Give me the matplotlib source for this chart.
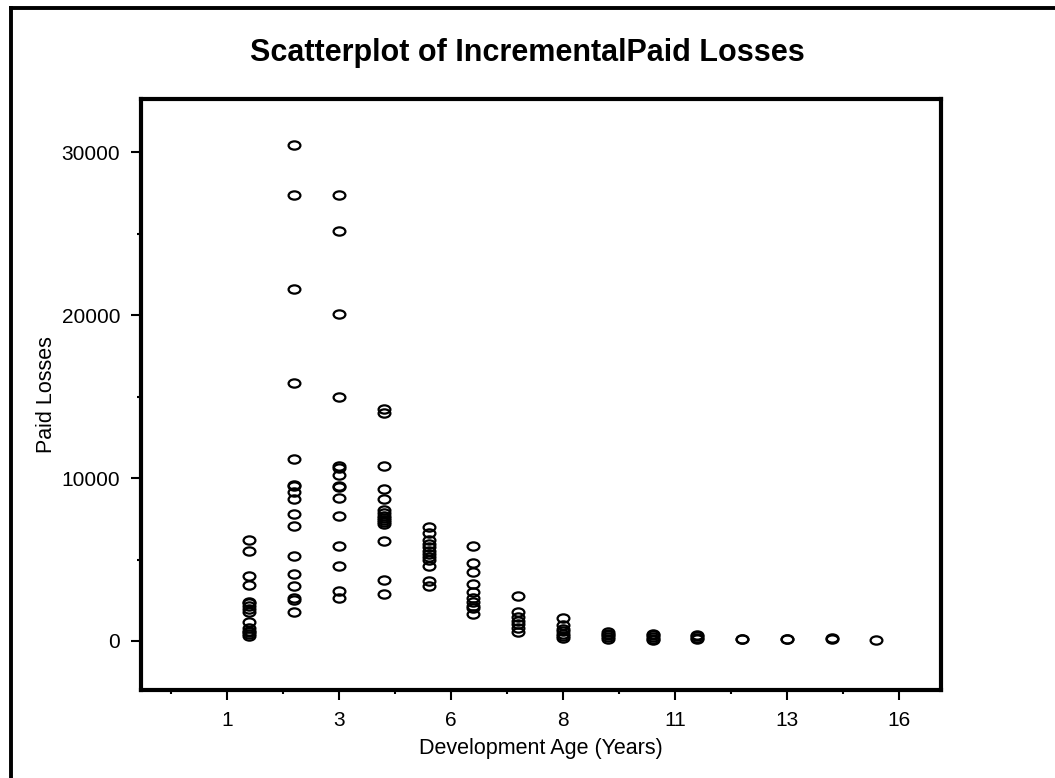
import numpy as np
import matplotlib
matplotlib.use('Agg')
import matplotlib.pyplot as plt
from matplotlib.path import Path
from matplotlib.transforms import Affine2D
from matplotlib.ticker import FixedLocator

plt.rcParams['font.family'] = ['Liberation Sans', 'DejaVu Sans']

# incremental paid losses by development age
age_1 = [6200, 5500, 4000, 3450, 2420, 2300, 2170, 1970, 1760, 1190, 780, 600, 530, 420, 330]
age_2 = [30440, 27370, 21590, 15860, 11190, 9590, 9510, 9140, 8690, 7810, 7070, 5220,
         4120, 3360, 2660, 2540, 1800]
age_3 = [27370, 25160, 20100, 14950, 10740, 10610, 10160, 9540, 9440, 8790, 7680, 5860,
         4610, 3070, 2660]
age_4 = [14220, 13990, 10760, 9300, 8690, 8070, 7850, 7700, 7550, 7400, 7300, 7190,
         6110, 3750, 2910]
age_5 = [6990, 6640, 6170, 5960, 5760, 5550, 5350, 5140, 4940, 4630, 3710, 3400]
age_6 = [5860, 4780, 4260, 3500, 3030, 2620, 2420, 2170, 2010, 1660]
age_7 = [2770, 1800, 1460, 1250, 1040, 780, 570]
age_8 = [1390, 950, 750, 600, 450, 300, 200]
age_9 = [550, 450, 350, 250, 150]
age_10 = [450, 350, 250, 150, 80]
age_11 = [380, 280, 180, 100]
age_12 = [150, 100]
age_13 = [150, 100]
age_14 = [160, 110]
age_15 = [60]
losses_by_age = [age_1, age_2, age_3, age_4, age_5, age_6, age_7, age_8, age_9, age_10,
                 age_11, age_12, age_13, age_14, age_15]

x_tick_pos = [0.5, 3.0, 5.5, 8.0, 10.5, 13.0, 15.5]
x_tick_labels = ['1', '3', '6', '8', '11', '13', '16']
y_ticks = [0, 10000, 20000, 30000]

# wide open ellipse marker
ellipse = Path.unit_circle().transformed(Affine2D().scale(1.0, 0.7))

fig = plt.figure(figsize=(10.55, 7.78), dpi=100)
ax = fig.add_axes([141 / 1055, 1 - 690 / 778, 800 / 1055, 591.5 / 778])

for i, vals in enumerate(losses_by_age):
    xs = np.full(len(vals), i + 1)
    ax.plot(xs, vals, linestyle='none', marker=ellipse, markersize=8.5,
            markerfacecolor='none', markeredgecolor='black', markeredgewidth=1.6)

ax.set_xlim(-1.42, 16.44)
ax.set_ylim(-3010, 33300)

ax.set_xticks(x_tick_pos)
ax.set_xticklabels(x_tick_labels)
ax.xaxis.set_minor_locator(FixedLocator(np.arange(-0.75, 16.3, 2.5)))
ax.set_yticks(y_ticks)
ax.yaxis.set_minor_locator(FixedLocator([5000, 15000, 25000]))

ax.tick_params(which='major', length=7, width=1.5, labelsize=15, pad=8, color='black')
ax.tick_params(which='minor', length=3, width=1.5)
for s in ax.spines.values():
    s.set_linewidth(3)

ax.set_xlabel('Development Age (Years)', fontsize=15.5, labelpad=6)
ax.set_ylabel('Paid Losses', fontsize=15.5, labelpad=3)

fig.text(0.5, 1 - 53 / 778, 'Scatterplot of IncrementalPaid Losses', ha='center',
         va='center', fontsize=22, fontweight='bold')

# outer frame (left and top only, like the reference)
fig.add_artist(plt.Line2D([11 / 1055, 11 / 1055], [0, 1 - 7.5 / 778], color='black',
                          linewidth=2.8, transform=fig.transFigure))
fig.add_artist(plt.Line2D([11 / 1055, 1], [1 - 7.5 / 778, 1 - 7.5 / 778], color='black',
                          linewidth=2.8, transform=fig.transFigure))

plt.savefig('out.png', dpi=100)
